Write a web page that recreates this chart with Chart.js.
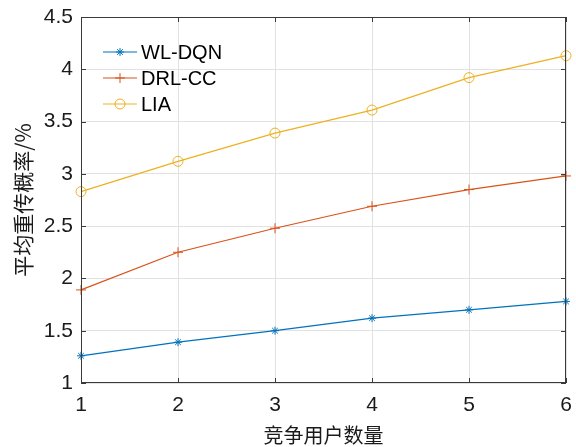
<!DOCTYPE html>
<html>
<head>
<meta charset="utf-8">
<script src="https://cdn.jsdelivr.net/npm/chart.js@4.4.1/dist/chart.umd.min.js"></script>
<style>
  html, body { margin: 0; padding: 0; background: #fff; }
  #wrap { width: 576px; height: 447px; }
</style>
</head>
<body>
<div id="wrap"><canvas id="chart"></canvas></div>
<script>
// 竞争用户数量 vs 平均重传概率
const users = [1, 2, 3, 4, 5, 6];
const wlDqn = [1.26, 1.39, 1.50, 1.62, 1.70, 1.78];
const drlCc = [1.89, 2.25, 2.48, 2.69, 2.85, 2.98];
const lia = [2.83, 3.12, 3.39, 3.61, 3.92, 4.13];
const xTicks = [1, 2, 3, 4, 5, 6];
const yTicks = [1, 1.5, 2, 2.5, 3, 3.5, 4, 4.5];
const yTickLabels = ['1', '1.5', '2', '2.5', '3', '3.5', '4', '4.5'];

const axisColor = '#3a3a3a';
const tickFont = { family: 'Liberation Sans, Arial, sans-serif', size: 21 };

function toPoints(ys) {
    return users.map((x, i) => ({ x: x, y: ys[i] }));
}

function makeSeries(label, ys, color, style, radius) {
    return {
        label: label,
        data: toPoints(ys),
        borderColor: color,
        backgroundColor: 'transparent',
        borderWidth: 1.2,
        pointStyle: style,
        pointRadius: radius,
        pointBorderWidth: 1,
        pointBorderColor: color,
        pointBackgroundColor: 'transparent',
        tension: 0,
        clip: false
    };
}

// box, inward ticks and the legend in the upper-left corner
const matlabFrame = {
    id: 'matlabFrame',
    afterDraw(chart) {
        const ctx = chart.ctx;
        const a = chart.chartArea;
        const xs = chart.scales.x, ys = chart.scales.y;
        ctx.save();
        ctx.strokeStyle = axisColor;
        ctx.lineWidth = 1;
        ctx.strokeRect(a.left + 0.5, a.top + 0.5, a.right - a.left - 1, a.bottom - a.top - 1);
        const len = 5;
        ctx.beginPath();
        xTicks.forEach(v => {
            const px = Math.round(xs.getPixelForValue(v)) + 0.5;
            ctx.moveTo(px, a.bottom); ctx.lineTo(px, a.bottom - len);
            ctx.moveTo(px, a.top); ctx.lineTo(px, a.top + len);
        });
        yTicks.forEach(v => {
            const py = Math.round(ys.getPixelForValue(v)) + 0.5;
            ctx.moveTo(a.left, py); ctx.lineTo(a.left + len, py);
            ctx.moveTo(a.right, py); ctx.lineTo(a.right - len, py);
        });
        ctx.stroke();

        // legend
        ctx.font = '20px Liberation Sans, Arial, sans-serif';
        ctx.textBaseline = 'middle';
        ctx.textAlign = 'left';
        chart.data.datasets.forEach((ds, i) => {
            const y = 52 + i * 26;
            ctx.strokeStyle = ds.borderColor;
            ctx.lineWidth = ds.borderWidth;
            ctx.beginPath();
            ctx.moveTo(103, y); ctx.lineTo(137, y);
            ctx.stroke();
            ctx.lineWidth = ds.pointBorderWidth;
            ctx.fillStyle = 'transparent';
            Chart.helpers.drawPoint(ctx, {
                pointStyle: ds.pointStyle,
                radius: ds.pointRadius,
                borderWidth: ds.pointBorderWidth,
                rotation: 0
            }, 120, y);
            ctx.fillStyle = '#000';
            ctx.fillText(ds.label, 141, y + 1);
        });
        ctx.restore();
    }
};

new Chart(document.getElementById('chart'), {
    type: 'line',
    data: {
        datasets: [
            makeSeries('WL-DQN', wlDqn, '#0072BD', 'star', 4),
            makeSeries('DRL-CC', drlCc, '#D95319', 'cross', 5),
            makeSeries('LIA', lia, '#EDB120', 'circle', 5)
        ]
    },
    options: {
        responsive: true,
        maintainAspectRatio: false,
        animation: false,
        layout: { padding: { top: 17, right: 10, left: 0, bottom: 0 } },
        plugins: {
            legend: { display: false },
            tooltip: { enabled: false }
        },
        scales: {
            x: {
                type: 'linear',
                min: 1,
                max: 6,
                afterBuildTicks: s => { s.ticks = xTicks.map(v => ({ value: v })); },
                afterFit: s => { s.height = 64; s.paddingLeft = 0; s.paddingRight = 0; },
                grid: { color: '#e2e2e2', drawTicks: false },
                border: { display: false },
                ticks: { color: '#1a1a1a', font: tickFont, padding: 10, maxRotation: 0 },
                title: {
                    display: true,
                    text: '竞争用户数量',
                    color: '#1a1a1a',
                    font: { family: 'Noto Sans CJK SC', size: 20 },
                    padding: { top: 0, bottom: 0 }
                }
            },
            y: {
                type: 'linear',
                min: 1,
                max: 4.5,
                afterBuildTicks: s => { s.ticks = yTicks.map(v => ({ value: v })); },
                afterFit: s => { s.width = 81; s.paddingTop = 0; s.paddingBottom = 0; },
                grid: { color: '#e2e2e2', drawTicks: false },
                border: { display: false },
                ticks: {
                    color: '#1a1a1a',
                    font: tickFont,
                    padding: 8,
                    callback: v => yTickLabels[yTicks.indexOf(v)]
                },
                title: {
                    display: true,
                    text: '平均重传概率/%',
                    color: '#1a1a1a',
                    font: { family: 'Noto Sans CJK SC', size: 21 },
                    padding: { top: 10, bottom: 0 }
                }
            }
        }
    },
    plugins: [matlabFrame]
});
</script>
</body>
</html>
